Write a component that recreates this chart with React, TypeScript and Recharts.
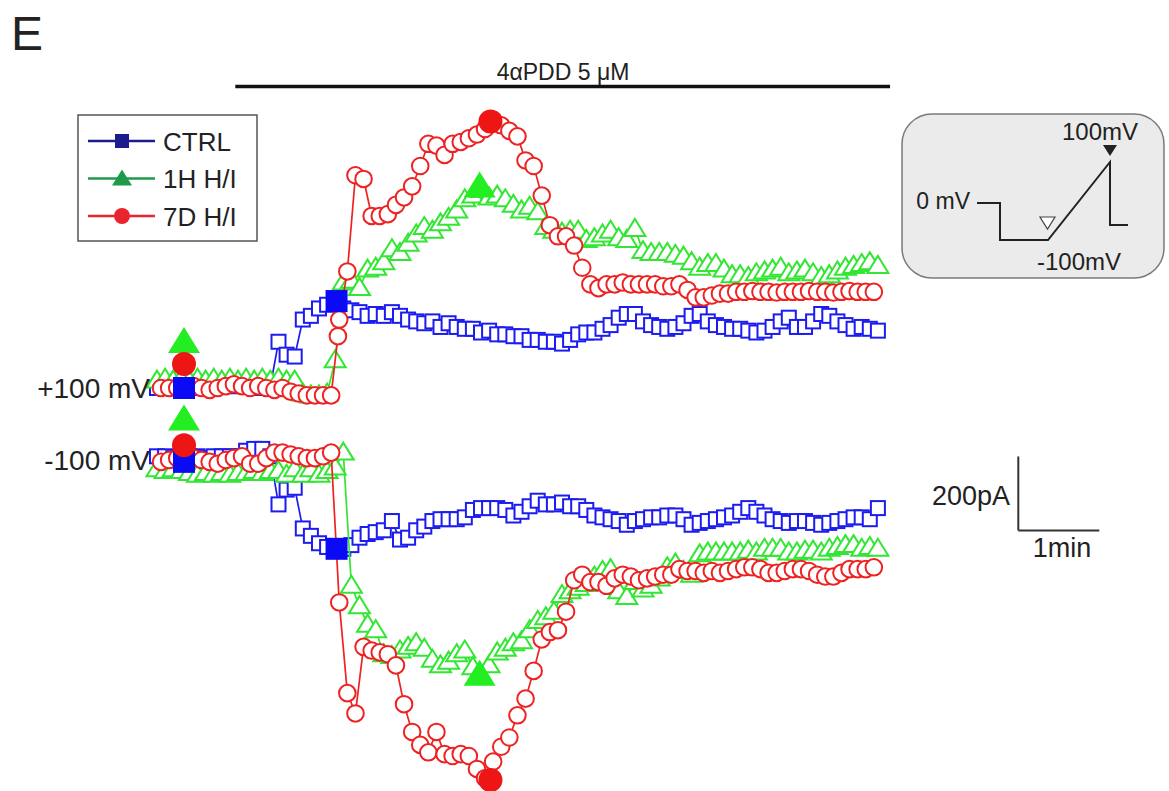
import React from 'react';
import { ComposedChart, Scatter, XAxis, YAxis, ReferenceLine } from 'recharts';

// ---------------- data (time in s, current in pA) ----------------
const SAMPLE_S = 6; // sampling interval of the recordings
const RED_START_S = 3; // 7D H/I recording offset

// CTRL (+100 mV, current relative to baseline)
const ctrlPos = [
  0, 5, 0, 5, 5, 0, 5, 0, 5, 5,
  5, 5, 0, 5, 5, 125, 90, 85, 185, 195,
  215, 225, 240, 215, 210, 205, 195, 200, 195, 205,
  195, 185, 180, 175, 180, 165, 175, 165, 160, 160,
  150, 155, 145, 145, 140, 140, 130, 130, 125, 125,
  120, 130, 145, 150, 150, 160, 170, 190, 200, 200,
  180, 170, 165, 160, 165, 175, 195, 200, 180, 170,
  165, 160, 160, 155, 150, 155, 165, 180, 190, 165,
  165, 180, 200, 195, 180, 170, 160, 165, 160, 155,
];
// CTRL (-100 mV)
const ctrlNeg = [
  10, 10, 5, 10, 10, 10, 5, 10, 10, 10,
  10, 25, 30, 30, 10, -120, -80, -75, -185, -205,
  -225, -235, -245, -240, -230, -210, -200, -195, -190, -165,
  -215, -210, -190, -180, -165, -160, -160, -160, -155, -135,
  -130, -130, -130, -135, -150, -140, -125, -110, -120, -120,
  -115, -125, -125, -135, -150, -155, -160, -165, -175, -165,
  -160, -155, -155, -150, -150, -160, -175, -170, -165, -160,
  -155, -150, -140, -130, -140, -150, -160, -165, -170, -165,
  -165, -170, -175, -170, -165, -160, -155, -155, -160, -130,
];
// 1H H/I (+100 mV)
const h1Pos = [
  20, 25, 20, 25, 20, 25, 20, 25, 20, 25,
  20, 25, 20, 25, 20, 25, 20, 20, -15, -20,
  -20, -15, 75, 285, 290, 270, 320, 325, 340, 375,
  365, 390, 415, 435, 425, 445, 460, 480, 510, 520,
  535, 515, 520, 510, 495, 480, 490, 475, 435, 425,
  420, 425, 425, 400, 405, 415, 425, 405, 400, 430,
  370, 365, 365, 365, 360, 355, 340, 325, 335, 335,
  320, 305, 305, 300, 310, 315, 320, 325, 310, 315,
  320, 310, 300, 305, 315, 325, 330, 335, 340, 330,
];
// 1H H/I (-100 mV)
const h1Neg = [
  -25, -30, -25, -30, -35, -40, -35, -40, -35, -40,
  -35, -35, -30, -35, -30, -30, -40, -25, -40, -25,
  -40, -30, -20, 20, -340, -395, -445, -460, -525, -530,
  -515, -505, -495, -510, -540, -555, -545, -525, -515, -560,
  -580, -555, -520, -510, -495, -490, -460, -435, -425, -410,
  -365, -355, -345, -335, -315, -300, -295, -355, -370, -330,
  -350, -340, -320, -290, -280, -300, -310, -255, -250, -250,
  -250, -250, -250, -245, -250, -240, -240, -240, -250, -250,
  -245, -245, -250, -240, -235, -230, -230, -240, -235, -240,
];
// 7D H/I (+100 mV)
const redPos = [
  0, 0, 0, 0, 5, 0, -5, 0, 5, 10,
  5, 0, 5, 0, -5, 0, -10, -15, -20, -20,
  -20, -20, 185, 315, 575, 565, 465, 465, 470, 495,
  515, 545, 600, 660, 655, 630, 660, 665, 675, 685,
  700, 725, 710, 695, 680, 615, 600, 520, 440, 410,
  410, 385, 325, 280, 270, 280, 280, 285, 280, 280,
  280, 280, 275, 275, 280, 265, 245, 245, 250, 255,
  255, 260, 260, 262, 260, 260, 258, 260, 260, 260,
  262, 260, 260, 258, 260, 262, 260, 260, 260,
];
const redPosExtra = [{ t: 134, v: 140 }];
// 7D H/I (-100 mV)
const redNeg = [
  -5, 0, 5, 15, 5, 0, -5, -10, 0, 5,
  10, -10, -10, 5, 20, 20, 15, 10, 5, 5,
  10, 20, -385, -630, -685, -505, -515, -520, -525, -555,
  -660, -735, -770, -790, -735, -795, -800, -795, -800, -835,
  -860, -815, -775, -750, -690, -645, -570, -485, -465, -460,
  -410, -325, -310, -330, -330, -340, -320, -310, -315, -325,
  -320, -315, -310, -310, -295, -300, -300, -305, -300, -305,
  -300, -295, -290, -290, -295, -305, -305, -300, -295, -295,
  -300, -310, -315, -315, -305, -295, -295, -295, -290,
];

// highlighted (filled) markers
const ctrlMarkPos = [{ t: 20, v: 0 }, { t: 133, v: 235 }];
const ctrlMarkNeg = [{ t: 20, v: -5 }, { t: 133, v: -240 }];
const h1MarkPos = [{ t: 20, v: 130 }, { t: 239, v: 550 }];
const h1MarkNeg = [{ t: 20, v: 115 }, { t: 239, v: -575 }];
const redMarkPos = [{ t: 20, v: 65 }, { t: 247, v: 720 }];
const redMarkNeg = [{ t: 20, v: 40 }, { t: 247, v: -865 }];

// drug application and scale bars
const DRUG_START_S = 58;
const DRUG_END_S = 543;
const DRUG_LABEL = '4\u03b1PDD 5 \u03bcM';
const SCALE_T_S = 638;
const SCALE_DT_S = 60;
const SCALE_I_PA = -385;
const SCALE_DI_PA = 200;

const seriesNames = ['CTRL', '1H H/I', '7D H/I'];

// ---------------- layout ----------------
const W = 1169;
const H = 791;
const X0 = 157; // pixel of t = 0
const PX_PER_S = 1.35;
const POS_ZERO = 388;
const NEG_ZERO = 460;
const PX_PER_PA = 0.37;

const BLUE = '#1c1cf0';
const GREEN = '#33e633';
const RED = '#ee2222';

const toPts = (vals: number[], t0: number) => vals.map((v, i) => ({ t: t0 + i * SAMPLE_S, v }));

const ctrlPosPts = toPts(ctrlPos, 0);
const ctrlNegPts = toPts(ctrlNeg, 0);
const h1PosPts = toPts(h1Pos, 0);
const h1NegPts = toPts(h1Neg, 0);
const redPosPts = [...toPts(redPos, RED_START_S), ...redPosExtra].sort((a, b) => a.t - b.t);
const redNegPts = toPts(redNeg, RED_START_S);

const xDomain: [number, number] = [-X0 / PX_PER_S, (W - X0) / PX_PER_S];
const posDomain: [number, number] = [(POS_ZERO - H) / PX_PER_PA, POS_ZERO / PX_PER_PA];
const negDomain: [number, number] = [(NEG_ZERO - H) / PX_PER_PA, NEG_ZERO / PX_PER_PA];

const SW = 2;
const openSquare = (c: string) => (p: any) => (
  <rect x={p.cx - 7} y={p.cy - 7} width={14} height={14} fill="#fff" stroke={c} strokeWidth={SW} />
);
const openTri = (c: string) => (p: any) => (
  <polygon
    points={`${p.cx},${p.cy - 10} ${p.cx - 10.5},${p.cy + 7} ${p.cx + 10.5},${p.cy + 7}`}
    fill="#fff"
    stroke={c}
    strokeWidth={SW}
    strokeLinejoin="miter"
  />
);
const openCircle = (c: string) => (p: any) => (
  <circle cx={p.cx} cy={p.cy} r={8.3} fill="#fff" stroke={c} strokeWidth={SW} />
);
const fillSquare = (c: string) => (p: any) => (
  <rect x={p.cx - 11} y={p.cy - 11} width={22} height={22} fill={c} />
);
const fillTri = (c: string) => (p: any) => (
  <polygon points={`${p.cx},${p.cy - 13} ${p.cx - 16},${p.cy + 13} ${p.cx + 16},${p.cy + 13}`} fill={c} />
);
const fillCircle = (c: string) => (p: any) => <circle cx={p.cx} cy={p.cy} r={12} fill={c} />;

const FONT = '"Liberation Sans", Arial, Helvetica, sans-serif';
const TXT = '#222';

const legendRows = [
  { name: seriesNames[0], color: '#1c1c8c', kind: 'square' },
  { name: seriesNames[1], color: '#1f9a4a', kind: 'tri' },
  { name: seriesNames[2], color: '#e8242c', kind: 'circle' },
];

export default function App() {
  return (
    <div style={{ position: 'absolute', left: 0, top: 0, width: W, height: H, background: '#fff', fontFamily: FONT }}>
      <ComposedChart width={W} height={H} margin={{ top: 0, right: 0, bottom: 0, left: 0 }}>
        <XAxis type="number" dataKey="t" domain={xDomain} allowDataOverflow hide />
        <YAxis yAxisId="pos" type="number" dataKey="v" domain={posDomain} allowDataOverflow hide />
        <YAxis yAxisId="neg" type="number" dataKey="v" domain={negDomain} allowDataOverflow hide />

        <ReferenceLine
          yAxisId="pos"
          segment={[{ x: DRUG_START_S, y: 815 }, { x: DRUG_END_S, y: 815 }]}
          stroke="#111"
          strokeWidth={3.5}
          ifOverflow="visible"
        />
        <ReferenceLine
          yAxisId="pos"
          segment={[{ x: SCALE_T_S, y: SCALE_I_PA }, { x: SCALE_T_S, y: SCALE_I_PA + SCALE_DI_PA }]}
          stroke="#333"
          strokeWidth={2}
          ifOverflow="visible"
        />
        <ReferenceLine
          yAxisId="pos"
          segment={[{ x: SCALE_T_S, y: SCALE_I_PA }, { x: SCALE_T_S + SCALE_DT_S, y: SCALE_I_PA }]}
          stroke="#333"
          strokeWidth={2}
          ifOverflow="visible"
        />

        <Scatter yAxisId="pos" data={ctrlPosPts} line={{ stroke: BLUE, strokeWidth: 1.7 }} shape={openSquare(BLUE)} isAnimationActive={false} />
        <Scatter yAxisId="neg" data={ctrlNegPts} line={{ stroke: BLUE, strokeWidth: 1.7 }} shape={openSquare(BLUE)} isAnimationActive={false} />
        <Scatter yAxisId="pos" data={h1PosPts} line={{ stroke: GREEN, strokeWidth: 1.7 }} shape={openTri(GREEN)} isAnimationActive={false} />
        <Scatter yAxisId="neg" data={h1NegPts} line={{ stroke: GREEN, strokeWidth: 1.7 }} shape={openTri(GREEN)} isAnimationActive={false} />
        <Scatter yAxisId="pos" data={redPosPts} line={{ stroke: RED, strokeWidth: 1.7 }} shape={openCircle(RED)} isAnimationActive={false} />
        <Scatter yAxisId="neg" data={redNegPts} line={{ stroke: RED, strokeWidth: 1.7 }} shape={openCircle(RED)} isAnimationActive={false} />

        <Scatter yAxisId="pos" data={ctrlMarkPos} shape={fillSquare('#0a0af5')} isAnimationActive={false} />
        <Scatter yAxisId="neg" data={ctrlMarkNeg} shape={fillSquare('#0a0af5')} isAnimationActive={false} />
        <Scatter yAxisId="pos" data={h1MarkPos} shape={fillTri('#22ee22')} isAnimationActive={false} />
        <Scatter yAxisId="neg" data={h1MarkNeg} shape={fillTri('#22ee22')} isAnimationActive={false} />
        <Scatter yAxisId="pos" data={redMarkPos} shape={fillCircle('#ee1515')} isAnimationActive={false} />
        <Scatter yAxisId="neg" data={redMarkNeg} shape={fillCircle('#ee1515')} isAnimationActive={false} />
      </ComposedChart>

      <svg width={W} height={H} style={{ position: 'absolute', left: 0, top: 0, pointerEvents: 'none' }} fontFamily={FONT}>
        <text x={11} y={50} fontSize={48} fill={TXT}>E</text>
        <text x={563} y={80} fontSize={23} fill={TXT} textAnchor="middle">{DRUG_LABEL}</text>

        <text x={150} y={398} fontSize={28} fill={TXT} textAnchor="end">+100 mV</text>
        <text x={150} y={470} fontSize={28} fill={TXT} textAnchor="end">-100 mV</text>

        {/* legend */}
        <rect x={78} y={115} width={179} height={126} fill="#fff" stroke="#555" strokeWidth={1.5} />
        {legendRows.map((r, i) => {
          const y = 141 + i * 37.5;
          return (
            <g key={r.name}>
              <line x1={88} x2={155} y1={y} y2={y} stroke={r.color} strokeWidth={2.5} />
              {r.kind === 'square' && <rect x={115} y={y - 7} width={14} height={14} fill={r.color} />}
              {r.kind === 'tri' && <polygon points={`122,${y - 9} 112,${y + 7} 132,${y + 7}`} fill={r.color} />}
              {r.kind === 'circle' && <circle cx={122} cy={y} r={8} fill={r.color} />}
              <text x={163} y={y + 9.5} fontSize={26} fill={TXT}>{r.name}</text>
            </g>
          );
        })}

        {/* voltage protocol inset */}
        <rect x={902} y={114} width={262} height={164} rx={30} ry={30} fill="#ebebeb" stroke="#7a7a7a" strokeWidth={1.5} />
        <polyline points="977,203 1000,203 1000,240 1048,240 1110,162 1110,225 1128,225" fill="none" stroke="#222" strokeWidth={2} />
        <polygon points="1103,145 1117,145 1110,156" fill="#222" />
        <polygon points="1040,217 1055,217 1047.5,229" fill="#fff" stroke="#444" strokeWidth={1.2} />
        <text x={970} y={209} fontSize={23} fill={TXT} textAnchor="end">0 mV</text>
        <text x={1062} y={140} fontSize={24} fill={TXT}>100mV</text>
        <text x={1037} y={270} fontSize={24} fill={TXT}>-100mV</text>

        {/* scale bar labels */}
        <text x={1010} y={505} fontSize={27} fill={TXT} textAnchor="end">200pA</text>
        <text x={1062} y={557} fontSize={27} fill={TXT} textAnchor="middle">1min</text>
      </svg>
    </div>
  );
}
